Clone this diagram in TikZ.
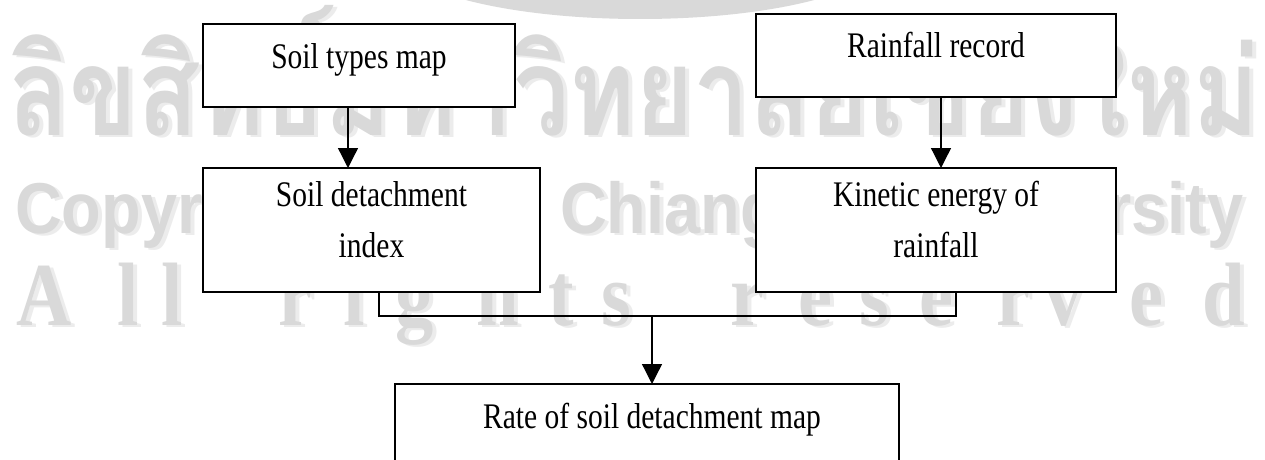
\documentclass[tikz,border=0pt]{standalone}
\usepackage{graphicx}
\usepackage{fontspec}
\setmainfont{Liberation Serif}[FakeStretch=0.82]
\newfontfamily\wmthai[Script=Thai]{Loma}
\newfontfamily\wmsans{Liberation Sans}[FakeStretch=0.9]
\newfontfamily\wmserif{Liberation Serif}[FakeStretch=0.85]
\usetikzlibrary{arrows.meta}
\definecolor{wmdark}{HTML}{D9D9D9}
\definecolor{wmlight}{HTML}{ECECEC}

\tikzset{
  box/.style={draw, line width=1.3pt, fill=white, rectangle, inner sep=0pt, outer sep=0pt},
  lbl/.style={anchor=base, inner sep=0pt, font=\fontsize{36pt}{44pt}\selectfont},
  link/.style={line width=1.3pt},
  arr/.style={link, -{Triangle[width=20pt,length=20pt]}},
  wmbase/.style={anchor=base west, inner sep=0pt},
}

% watermark word: light offset copy behind a grey copy
\newcommand\wmword[4]{%
  \node[wmbase, text=wmlight, font=#3, xshift=4pt, yshift=-2pt] (#1-s) at #2 {#4};
  \node[wmbase, text=wmdark, font=#3] (#1) at #2 {#4};}

\begin{document}
\begin{tikzpicture}[x=1pt, y=-1pt]
\useasboundingbox (0,0) rectangle (1265,460);
\clip (0,0) rectangle (1265,460);
\fill[white] (0,0) rectangle (1265,460);

% watermark
\fill[wmdark] (640,-45) ellipse [x radius=245, y radius=64];
\wmword{th}{(8,135)}{\wmthai\bfseries}{\resizebox{1250pt}{130pt}{ลิขสิทธิ์มหาวิทยาลัยเชียงใหม่}}
\foreach \x/\w [count=\i] in {15/Copyright,400/by,560/Chiang,800/Mai,930/University}
  {\wmword{cp\i}{(\x,233)}{\wmsans\bfseries\fontsize{72pt}{72pt}\selectfont}{\w}}
\foreach \x/\c [count=\i] in {16/A,117/l,161/l,278/r,343/i,395/g,476/h,548/t,601/s,730/r,798/e,859/s,919/e,996/r,1044/v,1129/e,1202/d}
  {\wmword{ar\i}{(\x,325)}{\wmserif\bfseries\fontsize{90pt}{90pt}\selectfont}{\c}}

% boxes
\node[box, minimum width=312pt, minimum height=83pt] (soil) at (359,65.5) {};
\node[box, minimum width=360pt, minimum height=83pt] (rain) at (936,55.5) {};
\node[box, minimum width=337pt, minimum height=124pt] (sdi) at (371.5,230) {};
\node[box, minimum width=360pt, minimum height=124pt] (ke) at (936,230) {};
\node[box, minimum width=504pt, minimum height=110pt] (rate) at (647,439) {};

% labels
\node[lbl] (soil-t) at (359,68) {Soil types map};
\node[lbl] (rain-t) at (936,57) {Rainfall record};
\node[lbl] (sdi-t1) at (371.5,206) {Soil detachment};
\node[lbl] (sdi-t2) at (371.5,257) {index};
\node[lbl] (ke-t1) at (936,206) {Kinetic energy of};
\node[lbl] (ke-t2) at (936,257) {rainfall};
\node[lbl] (rate-t) at (652,428) {Rate of soil detachment map};

% connectors
\coordinate (a1) at (348,0);
\coordinate (a2) at (941,0);
\coordinate (jl) at (379,316);
\coordinate (jr) at (956,316);
\coordinate (jm) at (652,316);
\draw[arr] (soil.south -| a1) -- (sdi.north -| a1);
\draw[arr] (rain.south -| a2) -- (ke.north -| a2);
\draw[link] (sdi.south -| jl) -- (jl) -- (jr) -- (ke.south -| jr);
\draw[arr] (jm) -- (rate.north -| jm);
\end{tikzpicture}
\end{document}
